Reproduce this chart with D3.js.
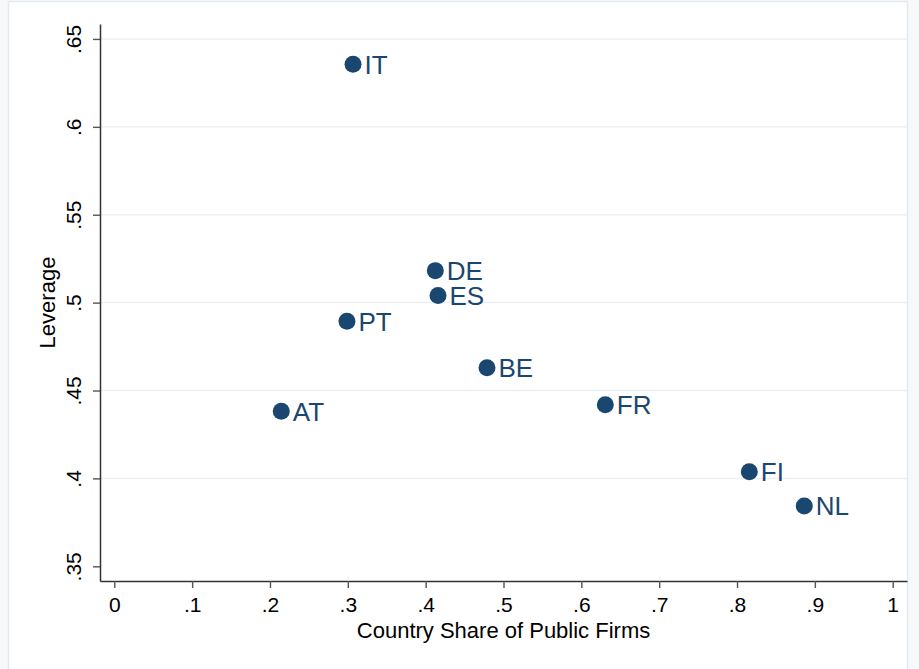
<!DOCTYPE html>
<html><head><meta charset="utf-8">
<script src="https://cdn.jsdelivr.net/npm/d3@7"></script>
<style>
html,body{margin:0;padding:0;background:#f7f8fa;}
svg{display:block;font-family:"Liberation Sans",Arial,Helvetica,sans-serif;}
</style>
</head><body>
<svg id="c" width="919" height="669"></svg>
<script>
const countries   = ["IT","DE","ES","PT","BE","AT","FR","FI","NL"];
const publicShare = [0.3067,0.4124,0.4159,0.2989,0.4788,0.2145,0.6308,0.8158,0.8864];
const leverage    = [0.6356,0.5182,0.5040,0.4894,0.4630,0.4382,0.4419,0.4038,0.3843];
const xTicks      = [0,0.1,0.2,0.3,0.4,0.5,0.6,0.7,0.8,0.9,1];
const xTickLabels = ["0",".1",".2",".3",".4",".5",".6",".7",".8",".9","1"];
const yTicks      = [0.35,0.4,0.45,0.5,0.55,0.6,0.65];
const yTickLabels = [".35",".4",".45",".5",".55",".6",".65"];
const gridTicks   = [0.4,0.45,0.5,0.55,0.6,0.65];
const xTitle = "Country Share of Public Firms";
const yTitle = "Leverage";

const svg = d3.select("#c");
const navy = "#1a476f";
const L = 100, R = 907, T = 24, B = 581;

// outer region
svg.append("rect").attr("x",8.5).attr("y",1.5).attr("width",899).attr("height",690)
  .attr("fill","#ffffff").attr("stroke","#e3eaef").attr("stroke-width",1.5);

const x = d3.scaleLinear().domain([-0.01837, 1.01837]).range([L, R]);
const y = d3.scaleLinear().domain([0.34164, 0.6585]).range([B, T]);

// gridlines
svg.append("g").selectAll("line").data(gridTicks).join("line")
  .attr("x1",L).attr("x2",R)
  .attr("y1",d=>y(d)).attr("y2",d=>y(d))
  .attr("stroke","#eaf0f4").attr("stroke-width",1.5);

// x axis
const gx = svg.append("g").attr("transform",`translate(0,${B})`)
  .call(d3.axisBottom(x).tickValues(xTicks).tickFormat((d,i)=>xTickLabels[i])
    .tickSize(7).tickSizeOuter(0).tickPadding(9.2));
gx.select(".domain").attr("stroke","#333").attr("stroke-width",1.5);
gx.selectAll(".tick line").attr("stroke","#555").attr("stroke-width",1.4);
gx.selectAll(".tick text").attr("fill","#000").style("font-size","21px")
  .style("font-family","'Liberation Sans',Arial,sans-serif");

// y axis
const gy = svg.append("g").attr("transform",`translate(${L},0)`)
  .call(d3.axisLeft(y).tickValues(yTicks).tickFormat((d,i)=>yTickLabels[i])
    .tickSize(7).tickSizeOuter(0));
gy.select(".domain").attr("stroke","#333").attr("stroke-width",1.5);
gy.selectAll(".tick line").attr("stroke","#555").attr("stroke-width",1.4);
gy.selectAll(".tick text").attr("fill","#000").style("font-size","21px")
  .style("font-family","'Liberation Sans',Arial,sans-serif")
  .attr("x",0).attr("y",-19).attr("dy",0).attr("transform","rotate(-90)")
  .attr("text-anchor","middle");

// titles
svg.append("text").attr("x",(L+R)/2).attr("y",638).attr("text-anchor","middle")
  .style("font-size","22px").attr("fill","#000").text(xTitle);
svg.append("text").attr("transform",`translate(55,${(T+B)/2}) rotate(-90)`)
  .attr("text-anchor","middle").style("font-size","22px").attr("fill","#000").text(yTitle);

// points
const data = countries.map((c,i)=>({c, x:publicShare[i], y:leverage[i]}));
const pts = svg.append("g");
pts.selectAll("circle").data(data).join("circle")
  .attr("cx",d=>x(d.x)).attr("cy",d=>y(d.y)).attr("r",8.5).attr("fill",navy);
pts.selectAll("text").data(data).join("text")
  .attr("x",d=>x(d.x)+11.5).attr("y",d=>y(d.y)+9.3)
  .style("font-size","26px").attr("fill",navy).text(d=>d.c);
</script>
</body></html>
